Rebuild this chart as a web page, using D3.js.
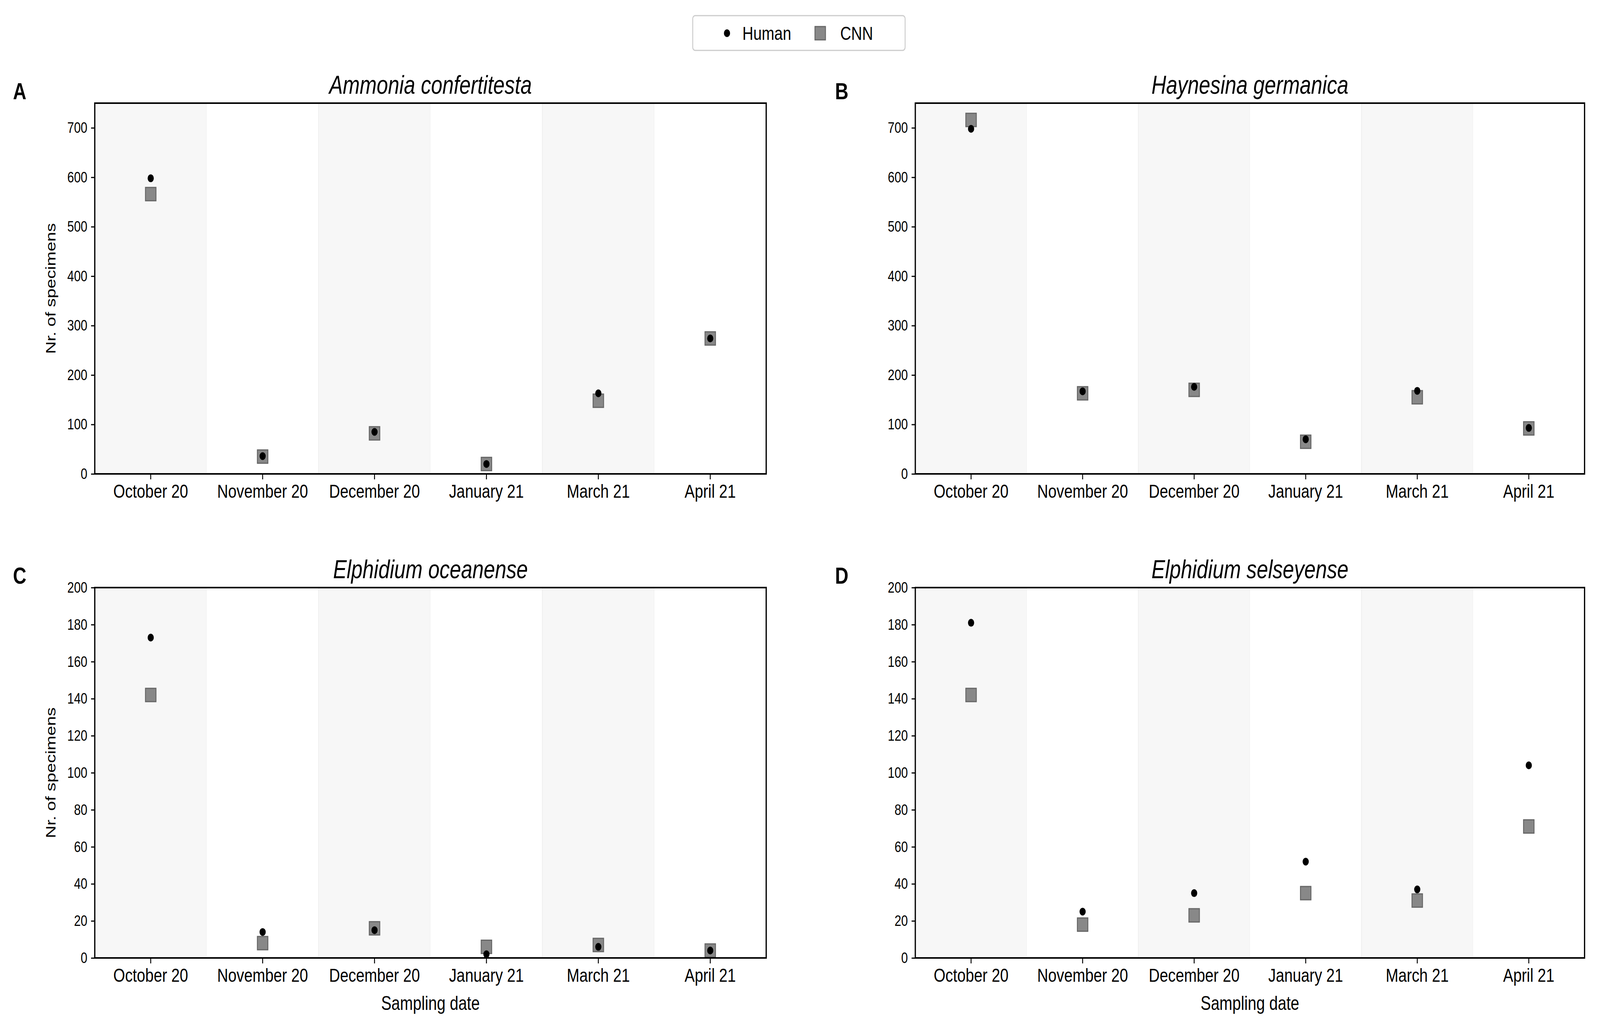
<!DOCTYPE html>
<html><head><meta charset="utf-8">
<script src="https://cdn.jsdelivr.net/npm/d3@7"></script>
<style>html,body{margin:0;background:#fff;overflow:hidden}svg{font-family:"Liberation Sans",Arial,sans-serif;display:block;width:100vw;height:100vh}</style>
</head><body>
<script>
var dates = ["October 20","November 20","December 20","January 21","March 21","April 21"];
var titles = ["Ammonia confertitesta","Haynesina germanica","Elphidium oceanense","Elphidium selseyense"];
var letters = ["A","B","C","D"];
var humanA = [598,36,85,20,163,274], cnnA = [566,35,82,20,148,274];
var humanB = [698,167,176,70,168,93], cnnB = [716,163,170,65,155,92];
var humanC = [173,14,15,2,6,4], cnnC = [142,8,16,6,7,4];
var humanD = [181,25,35,52,37,104], cnnD = [142,18,23,35,31,71];
var yMax = [750,750,200,200];
var yTicks = [d3.range(0,701,100), d3.range(0,701,100), d3.range(0,201,20), d3.range(0,201,20)];
var humans = [humanA,humanB,humanC,humanD], cnns = [cnnA,cnnB,cnnC,cnnD];

var W = 5183, H = 2639;
var svg = d3.select("body").append("svg").attr("viewBox","0 0 "+W+" "+H).attr("preserveAspectRatio","none");
var lefts = [307,2965], rights = [2482,5133], tops = [264,1504], bottoms = [1213,2452];

// legend
var lg = svg.append("g");
lg.append("rect").attr("x",2244).attr("y",40).attr("width",688).attr("height",89).attr("rx",8)
  .attr("fill","#fff").attr("stroke","#ccc").attr("stroke-width",3);
lg.append("circle").attr("cx",2355).attr("cy",85).attr("r",10).attr("fill","#000");
lg.append("text").attr("x",2405).attr("y",102).attr("font-size",49).text("Human");
lg.append("rect").attr("x",2640).attr("y",68).attr("width",34).attr("height",34).attr("fill","#888").attr("stroke","#666").attr("stroke-width",3);
lg.append("text").attr("x",2722).attr("y",102).attr("font-size",49).text("CNN");

for (var p = 0; p < 4; p++) {
  var L = lefts[p%2], R = rights[p%2], T = tops[Math.floor(p/2)], B = bottoms[Math.floor(p/2)];
  var x = d3.scaleBand().domain(dates).range([L,R]).padding(0);
  var y = d3.scaleLinear().domain([0,yMax[p]]).range([B,T]);
  var g = svg.append("g");
  g.selectAll(".band").data(dates).enter().append("rect")
    .attr("x",d=>x(d)).attr("y",T).attr("width",x.bandwidth()).attr("height",B-T)
    .attr("fill",(d,i)=>i%2==0?"#f7f7f7":"#fff")
    .attr("stroke",(d,i)=>i%2==0?"#f0f0f0":"none").attr("stroke-width",3);
  g.selectAll(".cnn").data(cnns[p]).enter().append("rect")
    .attr("x",(d,i)=>x(dates[i])+x.bandwidth()/2-17).attr("y",d=>y(d)-17)
    .attr("width",34).attr("height",34).attr("fill","#888").attr("stroke","#666").attr("stroke-width",3);
  g.selectAll(".hum").data(humans[p]).enter().append("circle")
    .attr("cx",(d,i)=>x(dates[i])+x.bandwidth()/2).attr("cy",d=>y(d)).attr("r",10).attr("fill","#000");
  g.append("rect").attr("x",L).attr("y",T).attr("width",R-L).attr("height",B-T)
    .attr("fill","none").attr("stroke","#000").attr("stroke-width",4);
  var xa = g.append("g").attr("transform","translate(0,"+B+")")
    .call(d3.axisBottom(x).tickSize(14).tickPadding(12));
  xa.selectAll("text").attr("font-size",49).attr("fill","#000").attr("font-family","Liberation Sans");
  var ya = g.append("g").attr("transform","translate("+L+",0)")
    .call(d3.axisLeft(y).tickValues(yTicks[p]).tickSize(12).tickPadding(12));
  ya.selectAll("text").attr("font-size",39).attr("fill","#000").attr("font-family","Liberation Sans");
  [xa,ya].forEach(a=>{a.select(".domain").remove();a.selectAll("line").attr("stroke","#000").attr("stroke-width",3);});
  g.append("text").attr("x",(L+R)/2).attr("y",T-24).attr("text-anchor","middle")
    .attr("font-size",66).attr("font-style","italic").text(titles[p]);
  g.append("text").attr("x",p%2?2705:42).attr("y",T-10).attr("font-size",60).attr("font-weight","bold")
    .text(letters[p]);
  if (p%2==0) {
    g.append("text").attr("transform","translate(180,"+((T+B)/2)+") rotate(-90)")
      .attr("text-anchor","middle").attr("font-size",45).text("Nr. of specimens");
  }
  if (p>=2) {
    g.append("text").attr("x",(L+R)/2).attr("y",2585).attr("text-anchor","middle")
      .attr("font-size",50).text("Sampling date");
  }
}
</script>
</body></html>
